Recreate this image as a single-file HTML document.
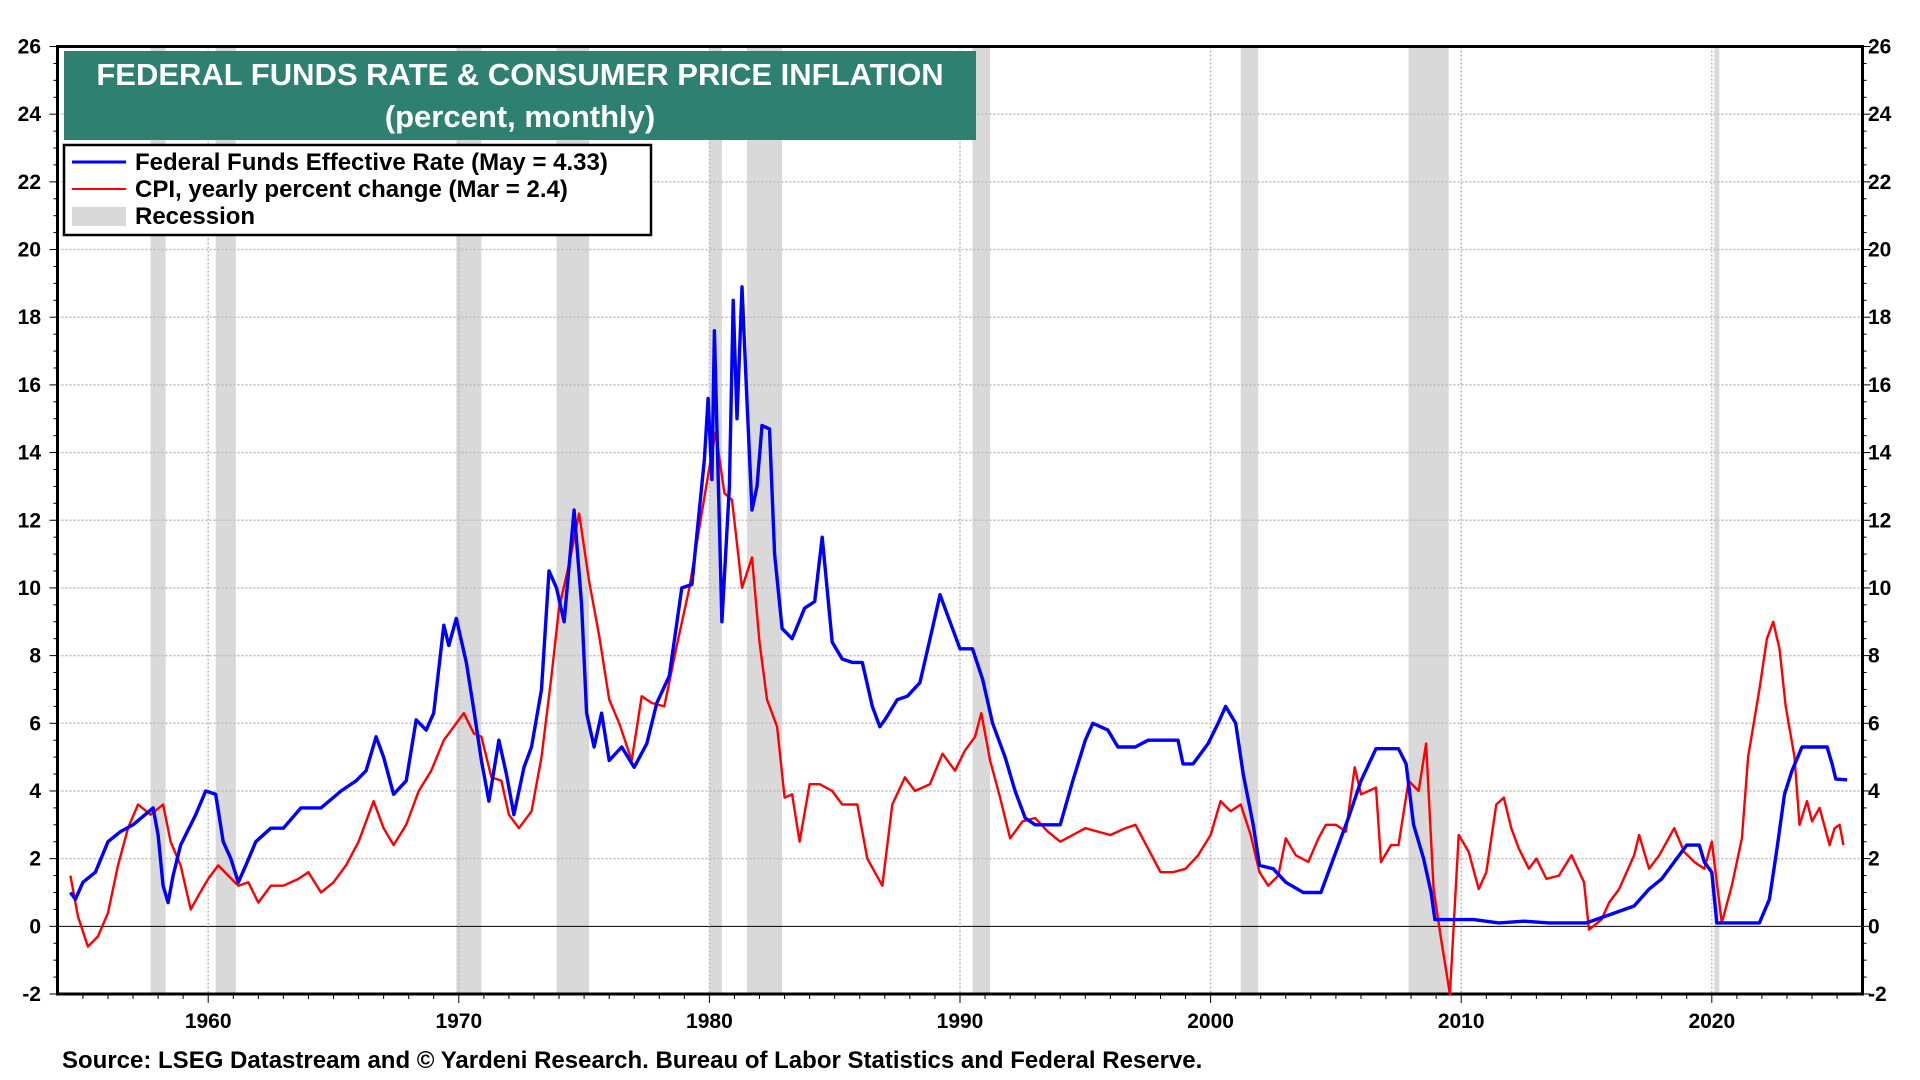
<!DOCTYPE html>
<html><head><meta charset="utf-8"><style>
body{margin:0;background:#fff;width:1920px;height:1080px;overflow:hidden;font-family:"Liberation Sans",Arial,sans-serif}
svg{display:block}
text{font-family:"Liberation Sans",Arial,sans-serif;font-weight:bold}
</style></head><body>
<svg id="chart" width="1920" height="1080" viewBox="0 0 1920 1080" xmlns="http://www.w3.org/2000/svg">
<g id="rec"></g>
<g id="grid"></g>
<g id="axes"></g>
<g id="series"></g>
<rect x="64" y="51" width="912" height="89" fill="#2e8070"/>
<text x="520" y="85" text-anchor="middle" fill="#fff" font-size="31">FEDERAL FUNDS RATE &amp; CONSUMER PRICE INFLATION</text>
<text x="520" y="127" text-anchor="middle" fill="#fff" font-size="31">(percent, monthly)</text>
<g>
<rect x="64" y="145" width="587" height="90" fill="#fff" stroke="#000" stroke-width="2.5"/>
<line x1="72" y1="162" x2="126" y2="162" stroke="#0000ff" stroke-width="3"/>
<text x="135" y="170" font-size="24">Federal Funds Effective Rate (May = 4.33)</text>
<line x1="72" y1="189" x2="126" y2="189" stroke="#ff0000" stroke-width="2"/>
<text x="135" y="197" font-size="24">CPI, yearly percent change (Mar = 2.4)</text>
<rect x="72" y="207" width="54" height="19" fill="#d9d9d9"/>
<text x="135" y="224" font-size="24">Recession</text>
</g>
<text x="62" y="1068" font-size="24">Source: LSEG Datastream and © Yardeni Research. Bureau of Labor Statistics and Federal Reserve.</text>
</svg>
<script>
const ffYears=[1954.5,1954.7,1955.0,1955.5,1956.0,1956.5,1957.0,1957.8,1958.0,1958.2,1958.4,1958.6,1958.9,1959.5,1959.9,1960.3,1960.6,1960.9,1961.2,1961.5,1961.9,1962.5,1963.0,1963.7,1964.5,1965.3,1965.9,1966.3,1966.7,1967.0,1967.4,1967.9,1968.3,1968.7,1969.0,1969.4,1969.6,1969.9,1970.3,1970.6,1970.9,1971.2,1971.6,1971.9,1972.2,1972.6,1972.9,1973.3,1973.6,1973.9,1974.2,1974.6,1974.9,1975.1,1975.4,1975.7,1976.0,1976.5,1977.0,1977.5,1977.9,1978.4,1978.9,1979.3,1979.8,1979.95,1980.1,1980.2,1980.5,1980.8,1980.95,1981.1,1981.3,1981.5,1981.7,1981.9,1982.1,1982.4,1982.6,1982.9,1983.3,1983.8,1984.2,1984.5,1984.9,1985.3,1985.7,1986.1,1986.5,1986.8,1987.0,1987.5,1987.9,1988.4,1988.9,1989.2,1989.6,1990.0,1990.5,1990.9,1991.3,1991.8,1992.2,1992.6,1993.0,1993.5,1994.0,1994.5,1995.0,1995.3,1995.9,1996.3,1997.0,1997.5,1998.0,1998.7,1998.9,1999.3,1999.9,2000.3,2000.6,2001.0,2001.3,2001.7,2001.95,2002.5,2003.0,2003.7,2004.4,2004.9,2005.5,2006.0,2006.6,2007.5,2007.8,2008.1,2008.5,2008.8,2008.95,2010.5,2011.5,2012.5,2013.5,2015.0,2015.95,2016.9,2017.5,2018.0,2018.5,2019.0,2019.5,2019.7,2020.0,2020.2,2021.9,2022.3,2022.6,2022.9,2023.2,2023.6,2024.6,2024.8,2024.95,2025.4];
const ffValues=[1.0,0.8,1.3,1.6,2.5,2.8,3.0,3.5,2.7,1.2,0.7,1.5,2.4,3.3,4.0,3.9,2.5,2.0,1.3,1.8,2.5,2.9,2.9,3.5,3.5,4.0,4.3,4.6,5.6,5.0,3.9,4.3,6.1,5.8,6.3,8.9,8.3,9.1,7.8,6.4,4.9,3.7,5.5,4.5,3.3,4.7,5.3,7.0,10.5,10.0,9.0,12.3,9.5,6.3,5.3,6.3,4.9,5.3,4.7,5.4,6.6,7.4,10.0,10.1,13.8,15.6,13.2,17.6,9.0,13.0,18.5,15.0,18.9,15.5,12.3,13.0,14.8,14.7,11.0,8.8,8.5,9.4,9.6,11.5,8.4,7.9,7.8,7.8,6.5,5.9,6.1,6.7,6.8,7.2,8.8,9.8,9.0,8.2,8.2,7.3,6.0,5.0,4.0,3.2,3.0,3.0,3.0,4.3,5.5,6.0,5.8,5.3,5.3,5.5,5.5,5.5,4.8,4.8,5.4,6.0,6.5,6.0,4.5,3.0,1.8,1.7,1.3,1.0,1.0,2.0,3.2,4.3,5.25,5.25,4.8,3.0,2.0,1.0,0.2,0.2,0.1,0.15,0.1,0.1,0.35,0.6,1.1,1.4,1.9,2.4,2.4,1.9,1.6,0.1,0.1,0.8,2.3,3.9,4.6,5.3,5.3,4.8,4.35,4.33];
const cpiYears=[1954.5,1954.8,1955.2,1955.6,1956.0,1956.4,1956.8,1957.2,1957.7,1958.2,1958.5,1958.9,1959.3,1959.6,1960.0,1960.4,1960.8,1961.2,1961.6,1962.0,1962.5,1963.0,1963.6,1964.0,1964.5,1965.0,1965.5,1966.0,1966.6,1967.0,1967.4,1967.9,1968.4,1968.9,1969.4,1969.9,1970.2,1970.6,1970.9,1971.3,1971.7,1972.0,1972.4,1972.9,1973.3,1973.7,1974.0,1974.4,1974.8,1975.2,1975.6,1976.0,1976.4,1976.9,1977.3,1977.7,1978.2,1978.7,1979.2,1979.6,1980.1,1980.25,1980.6,1980.9,1981.3,1981.7,1982.0,1982.3,1982.7,1983.0,1983.3,1983.6,1984.0,1984.4,1984.9,1985.3,1985.9,1986.3,1986.6,1986.9,1987.3,1987.8,1988.2,1988.8,1989.3,1989.8,1990.2,1990.6,1990.85,1991.2,1991.6,1992.0,1992.5,1993.0,1993.5,1994.0,1994.5,1995.0,1995.5,1996.0,1996.6,1997.0,1997.5,1998.0,1998.5,1999.0,1999.5,2000.0,2000.4,2000.8,2001.2,2001.6,2001.95,2002.3,2002.7,2003.0,2003.4,2003.9,2004.3,2004.6,2005.0,2005.4,2005.75,2006.0,2006.6,2006.8,2007.2,2007.5,2007.9,2008.3,2008.6,2008.9,2009.2,2009.55,2009.9,2010.3,2010.7,2011.0,2011.4,2011.7,2012.0,2012.3,2012.7,2013.0,2013.4,2013.9,2014.4,2014.9,2015.1,2015.6,2015.9,2016.3,2016.9,2017.1,2017.5,2017.9,2018.5,2018.9,2019.3,2019.7,2020.0,2020.4,2020.8,2021.2,2021.45,2021.9,2022.2,2022.45,2022.7,2022.95,2023.3,2023.5,2023.8,2024.0,2024.3,2024.7,2024.9,2025.1,2025.25];
const cpiValues=[1.5,0.3,-0.6,-0.3,0.4,1.8,2.9,3.6,3.3,3.6,2.5,1.8,0.5,0.9,1.4,1.8,1.5,1.2,1.3,0.7,1.2,1.2,1.4,1.6,1.0,1.3,1.8,2.5,3.7,2.9,2.4,3.0,4.0,4.6,5.5,6.0,6.3,5.7,5.6,4.4,4.3,3.3,2.9,3.4,5.0,7.4,9.4,10.7,12.2,10.2,8.6,6.7,6.0,4.9,6.8,6.6,6.5,8.3,10.0,11.8,14.0,14.6,12.8,12.6,10.0,10.9,8.4,6.7,5.9,3.8,3.9,2.5,4.2,4.2,4.0,3.6,3.6,2.0,1.6,1.2,3.6,4.4,4.0,4.2,5.1,4.6,5.2,5.6,6.3,4.9,3.8,2.6,3.1,3.2,2.8,2.5,2.7,2.9,2.8,2.7,2.9,3.0,2.3,1.6,1.6,1.7,2.1,2.7,3.7,3.4,3.6,2.7,1.6,1.2,1.5,2.6,2.1,1.9,2.6,3.0,3.0,2.8,4.7,3.9,4.1,1.9,2.4,2.4,4.3,4.0,5.4,1.1,-0.4,-2.0,2.7,2.2,1.1,1.6,3.6,3.8,2.9,2.3,1.7,2.0,1.4,1.5,2.1,1.3,-0.1,0.2,0.7,1.1,2.1,2.7,1.7,2.1,2.9,2.2,1.9,1.7,2.5,0.1,1.2,2.6,5.0,7.0,8.5,9.0,8.2,6.5,5.0,3.0,3.7,3.1,3.5,2.4,2.9,3.0,2.4];
const recStart=[1957.7,1960.3,1969.9,1973.9,1980.0,1981.5,1990.5,2001.2,2007.9,2020.1];
const recEnd=[1958.3,1961.1,1970.9,1975.2,1980.5,1982.9,1991.2,2001.9,2009.5,2020.3];
const yTicks=[-2,0,2,4,6,8,10,12,14,16,18,20,22,24,26];
const xTicks=[1960,1970,1980,1990,2000,2010,2020];

const L=57.5,R=1862.5,T=46.5,B=994;
const x=yr=>208.2+(yr-1960)*25.06;
const y=v=>B-(v+2)/28*(B-T);
const NS='http://www.w3.org/2000/svg';
function mk(tag,parent,attrs){const e=document.createElementNS(NS,tag);for(const k in attrs)e.setAttribute(k,attrs[k]);parent.appendChild(e);return e;}
const rec=document.getElementById('rec'),grid=document.getElementById('grid'),axes=document.getElementById('axes'),series=document.getElementById('series');
for(let i=0;i<recStart.length;i++){
  const r=mk('rect',rec,{x:x(recStart[i]),y:T,width:x(recEnd[i])-x(recStart[i]),height:B-T,fill:'#d9d9d9'});
  
  
}
yTicks.forEach(v=>{
  if(v!==-2&&v!==26){const g=mk('line',grid,{x1:L,x2:R,y1:y(v),y2:y(v),stroke:v===0?'#000':'#bbb','stroke-width':v===0?1:1.5,'stroke-dasharray':v===0?'':'2,2'});
  }
  const t1=mk('text',axes,{x:41,y:y(v)+7,'text-anchor':'end','font-size':21});t1.textContent=v;
  
  const t2=mk('text',axes,{x:1868,y:y(v)+7,'text-anchor':'start','font-size':21});t2.textContent=v;
  
});
for(let v=-2;v<=26;v+=0.5){
  const w=(v%2===0)?8:4;
  mk('line',axes,{x1:L-w,x2:L,y1:y(v),y2:y(v),stroke:'#000','stroke-width':1});
  mk('line',axes,{x1:R,x2:R+w,y1:y(v),y2:y(v),stroke:'#000','stroke-width':1});
}
xTicks.forEach(yr=>{
  const g=mk('line',grid,{x1:x(yr),x2:x(yr),y1:T,y2:B,stroke:'#bbb','stroke-width':1.5,'stroke-dasharray':'2,2'});
  
  const t=mk('text',axes,{x:x(yr),y:1028,'text-anchor':'middle','font-size':21});t.textContent=yr;
  
});
for(let yr=1955;yr<=2025;yr++){mk('line',axes,{x1:x(yr),x2:x(yr),y1:B,y2:B+(yr%10===0?9:5),stroke:'#000','stroke-width':1});}
const fr=mk('rect',axes,{x:L,y:T,width:R-L,height:B-T,fill:'none',stroke:'#000','stroke-width':3});

function line(xs,vs,color,w,name){
  const d=xs.map((yr,i)=>(i?'L':'M')+x(yr).toFixed(1)+','+y(vs[i]).toFixed(1)).join('');
  const p=mk('path',series,{d:d,fill:'none',stroke:color,'stroke-width':w,'stroke-linejoin':'round'});
  
  
}
line(cpiYears,cpiValues,'#ff0000',2.4,'cpi-line');
line(ffYears,ffValues,'#0000ff',3.4,'fed-funds-line');
</script>
</body></html>
